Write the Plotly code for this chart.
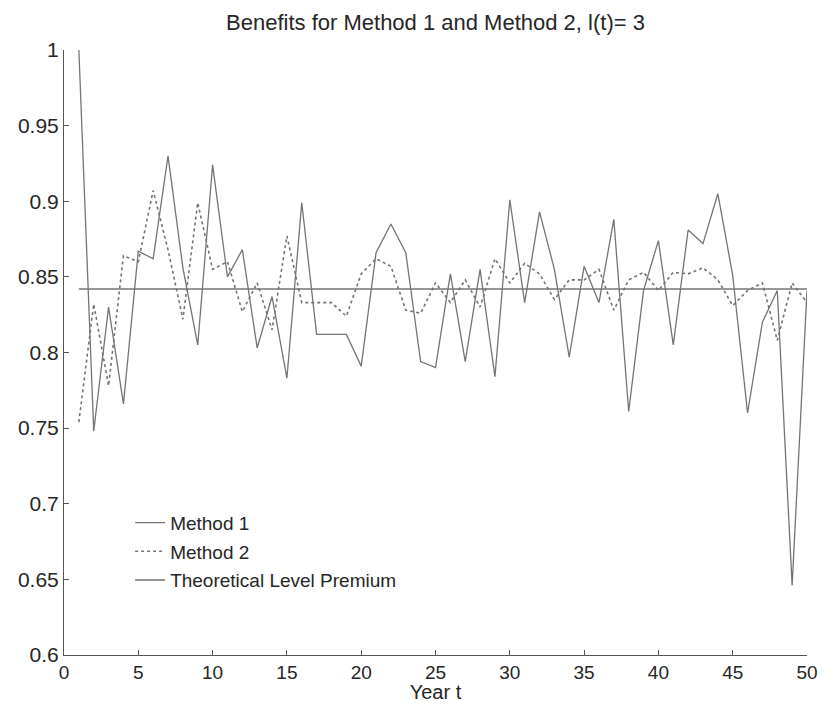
import plotly.graph_objects as go

years = list(range(1, 51))
method1 = [1.0, 0.748, 0.830, 0.766, 0.867, 0.862, 0.930, 0.856, 0.805, 0.924,
           0.850, 0.868, 0.803, 0.837, 0.783, 0.899, 0.812, 0.812, 0.812, 0.791,
           0.866, 0.885, 0.866, 0.794, 0.790, 0.852, 0.794, 0.855, 0.784, 0.901,
           0.833, 0.893, 0.855, 0.797, 0.857, 0.833, 0.888, 0.761, 0.841, 0.874,
           0.805, 0.881, 0.872, 0.905, 0.851, 0.760, 0.820, 0.841, 0.646, 0.841]
method2 = [0.754, 0.832, 0.778, 0.864, 0.860, 0.907, 0.868, 0.822, 0.899, 0.855,
           0.860, 0.827, 0.846, 0.815, 0.877, 0.833, 0.833, 0.833, 0.824, 0.852,
           0.862, 0.857, 0.828, 0.826, 0.846, 0.833, 0.848, 0.830, 0.862, 0.846,
           0.859, 0.852, 0.835, 0.848, 0.848, 0.855, 0.828, 0.848, 0.853, 0.841,
           0.853, 0.852, 0.856, 0.848, 0.831, 0.841, 0.846, 0.808, 0.846, 0.833]
theoretical_level = 0.842
theory = [theoretical_level] * len(years)

line_color = "#747474"
text_color = "#262626"

fig = go.Figure()
fig.add_trace(go.Scatter(x=years, y=method1, mode="lines", name="Method 1",
                         line=dict(color=line_color, width=1.3), legendgroup="a"))
fig.add_trace(go.Scatter(x=years, y=method2, mode="lines", name="Method 2",
                         line=dict(color=line_color, width=1.6, dash="dot"), legendgroup="b"))
fig.add_trace(go.Scatter(x=years, y=theory, mode="lines", name="Theoretical Level Premium",
                         line=dict(color=line_color, width=1.3), legendgroup="c"))

font = "Liberation Sans, Arial, sans-serif"
fig.update_layout(
    width=818, height=695,
    margin=dict(l=56, r=19, t=42, b=48, autoexpand=False),
    paper_bgcolor="white", plot_bgcolor="white",
    font=dict(family=font, size=20, color=text_color),
    title=dict(text="Benefits for Method 1 and Method 2, l(t)= 3", x=0.5, xref="paper",
               y=1 - 14 / 695, yanchor="middle", font=dict(size=22, color=text_color)),
    showlegend=True,
    legend=dict(x=0.089, y=0.25, xanchor="left", yanchor="top", bgcolor="rgba(0,0,0,0)",
                font=dict(size=19, color=text_color), tracegroupgap=1, traceorder="grouped"),
    xaxis=dict(range=[0, 50], tick0=0, dtick=5, ticks="inside", ticklen=5,
               tickcolor="#555", showline=True, linecolor="#555", linewidth=1,
               showgrid=False, zeroline=False, mirror=False, automargin=False,
               ticklabeloverflow="allow",
               title=dict(text="Year t", standoff=12, font=dict(size=20)),
               tickfont=dict(size=19)),
    yaxis=dict(range=[0.6, 1.0], tick0=0.6, dtick=0.05, ticks="inside", ticklen=5,
               tickcolor="#555", showline=True, linecolor="#555", linewidth=1,
               showgrid=False, zeroline=False, mirror=False, automargin=False,
               ticklabeloverflow="allow",
               tickfont=dict(size=21)),
)

fig.write_html("out.html")
